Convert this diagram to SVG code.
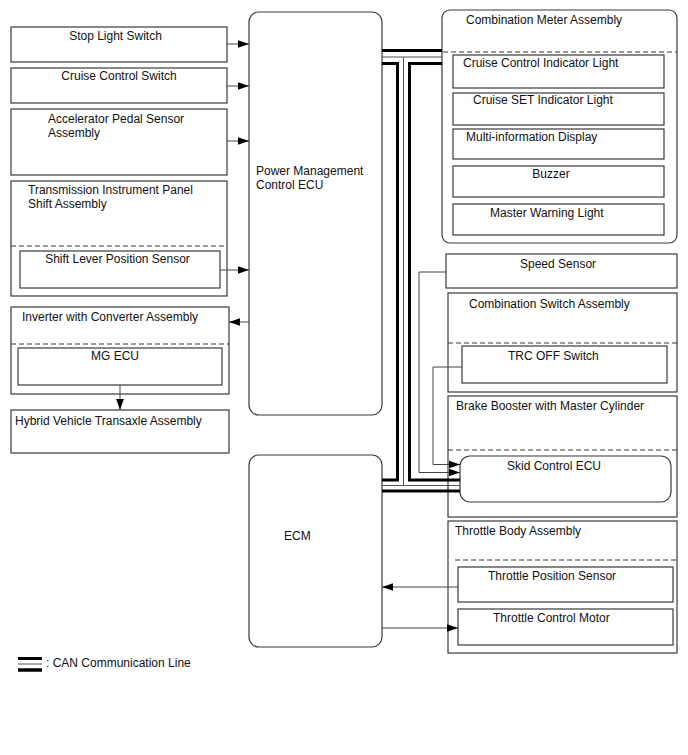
<svg xmlns="http://www.w3.org/2000/svg" width="688" height="755" viewBox="0 0 688 755">
<defs>
<marker id="ah" markerUnits="userSpaceOnUse" markerWidth="12" markerHeight="10" refX="11" refY="5" orient="auto">
<path d="M0,1.2 L11,5 L0,8.8 Z" fill="#000"/>
</marker>
<style>
.b{fill:#fff;stroke:#3a3a3a;stroke-width:1.2}
.d{fill:none;stroke:#3a3a3a;stroke-width:1.2;stroke-dasharray:5 3}
.t{font-family:"Liberation Sans",Arial,sans-serif;font-size:12px;fill:#111}
.m{text-anchor:middle}
.w{fill:none;stroke:#444;stroke-width:1}
.can{fill:none;stroke:#000;stroke-width:3}
.cc{fill:none;stroke:#555;stroke-width:1}
</style>
</defs>
<rect width="688" height="755" fill="#fff"/>

<g id="stop-light-switch"><rect class="b" x="11" y="27" width="216" height="35"/><text class="t m" x="115.5" y="40">Stop Light Switch</text></g>
<g id="cruise-control-switch"><rect class="b" x="11" y="68" width="216" height="35"/><text class="t m" x="119" y="80">Cruise Control Switch</text></g>
<g id="accelerator-pedal-sensor"><rect class="b" x="11" y="109" width="216" height="66"/><text class="t" x="48" y="123">Accelerator Pedal Sensor</text><text class="t" x="48" y="137">Assembly</text></g>
<g id="transmission-shift-assembly"><rect class="b" x="11" y="181" width="216" height="115"/><text class="t" x="28" y="194">Transmission Instrument Panel</text><text class="t" x="28" y="208">Shift Assembly</text><line class="d" x1="11" y1="246" x2="227" y2="246"/>
<g id="shift-lever-position-sensor"><rect class="b" x="20" y="251" width="200" height="37"/><text class="t m" x="117.5" y="263">Shift Lever Position Sensor</text></g></g>
<g id="inverter"><rect class="b" x="11" y="307" width="218" height="87"/><text class="t" x="22" y="321">Inverter with Converter Assembly</text><line class="d" x1="11" y1="344" x2="229" y2="344"/>
<g id="mg-ecu"><rect class="b" x="18" y="348" width="204" height="37"/><text class="t m" x="115" y="360">MG ECU</text></g></g>
<g id="hybrid-transaxle"><rect class="b" x="11" y="410" width="218" height="43"/><text class="t" x="15" y="425">Hybrid Vehicle Transaxle Assembly</text></g>

<g id="pm-ecu"><rect class="b" x="249" y="12" width="133" height="403" rx="10"/><text class="t" x="256" y="175">Power Management</text><text class="t" x="256" y="189">Control ECU</text></g>
<g id="ecm"><rect class="b" x="249" y="455" width="133" height="192" rx="10"/><text class="t" x="284" y="540">ECM</text></g>

<g id="combination-meter"><rect class="b" x="442" y="10" width="235" height="233" rx="8"/><text class="t" x="466" y="24">Combination Meter Assembly</text><line class="d" x1="443" y1="52" x2="677" y2="52"/>
<g id="cruise-indicator"><rect class="b" x="453" y="55" width="211" height="33"/><text class="t" x="463" y="67">Cruise Control Indicator Light</text></g>
<g id="cruise-set-indicator"><rect class="b" x="453" y="93" width="211" height="32"/><text class="t" x="473" y="104">Cruise SET Indicator Light</text></g>
<g id="multi-info-display"><rect class="b" x="453" y="129" width="211" height="30"/><text class="t" x="466" y="141">Multi-information Display</text></g>
<g id="buzzer"><rect class="b" x="453" y="166" width="211" height="31"/><text class="t m" x="551" y="178">Buzzer</text></g>
<g id="master-warning"><rect class="b" x="453" y="204" width="211" height="31"/><text class="t" x="490" y="217">Master Warning Light</text></g></g>

<g id="speed-sensor"><rect class="b" x="446" y="254" width="231" height="34"/><text class="t" x="520" y="268">Speed Sensor</text></g>
<g id="combination-switch"><rect class="b" x="448" y="293" width="229" height="99"/><text class="t" x="469" y="308">Combination Switch Assembly</text><line class="d" x1="448" y1="343" x2="677" y2="343"/>
<g id="trc-off-switch"><rect class="b" x="462" y="346" width="205" height="37"/><text class="t" x="508" y="360">TRC OFF Switch</text></g></g>
<g id="brake-booster"><rect class="b" x="448" y="396" width="229" height="121"/><text class="t" x="456" y="410">Brake Booster with Master Cylinder</text><line class="d" x1="448" y1="450" x2="677" y2="450"/>
<g id="skid-control-ecu"><rect class="b" x="460" y="456" width="211" height="46" rx="10"/><text class="t" x="507" y="470">Skid Control ECU</text></g></g>
<g id="throttle-body"><rect class="b" x="448" y="521" width="229" height="132"/><text class="t" x="455" y="535">Throttle Body Assembly</text><line class="d" x1="455" y1="560" x2="677" y2="560"/>
<g id="throttle-position-sensor"><rect class="b" x="458" y="567" width="215" height="35"/><text class="t" x="488" y="580">Throttle Position Sensor</text></g>
<g id="throttle-control-motor"><rect class="b" x="458" y="609" width="215" height="36"/><text class="t" x="493" y="622">Throttle Control Motor</text></g></g>

<g id="connectors">
<line class="w" x1="227" y1="44" x2="249" y2="44" marker-end="url(#ah)"/>
<line class="w" x1="227" y1="86" x2="249" y2="86" marker-end="url(#ah)"/>
<line class="w" x1="227" y1="141" x2="249" y2="141" marker-end="url(#ah)"/>
<line class="w" x1="220" y1="270" x2="249" y2="270" marker-end="url(#ah)"/>
<line class="w" x1="249" y1="322" x2="229" y2="322" marker-end="url(#ah)"/>
<line class="w" x1="120" y1="385" x2="120" y2="410" marker-end="url(#ah)"/>
<polyline class="w" points="446,272 419,272 419,472.5 460,472.5" marker-end="url(#ah)"/>
<polyline class="w" points="462,367 433,367 433,464.5 460,464.5" marker-end="url(#ah)"/>
<line class="w" x1="458" y1="587" x2="382" y2="587" marker-end="url(#ah)"/>
<line class="w" x1="382" y1="628" x2="458" y2="628" marker-end="url(#ah)"/>
<g id="can-bus">
<path class="can" d="M382 50.5H442"/>
<path class="can" d="M382 63.5H397.5V480H382"/>
<path class="can" d="M442 63.5H409.5V480H460"/>
<path class="can" d="M382 491H460"/>
<path class="cc" d="M382 57H442M403.5 57V485.5M382 485.5H460"/>
</g>
</g>

<g id="legend">
<path d="M18 658.5H42" stroke="#000" stroke-width="3"/>
<path d="M18 664H42" stroke="#555" stroke-width="1"/>
<path d="M18 670H42" stroke="#000" stroke-width="3.5"/>
<text class="t" x="46" y="667">: CAN Communication Line</text>
</g>
</svg>
